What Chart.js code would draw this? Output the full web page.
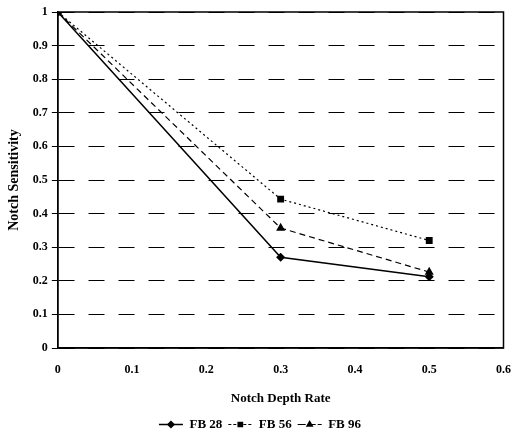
<!DOCTYPE html>
<html>
<head>
<meta charset="utf-8">
<script src="https://cdn.jsdelivr.net/npm/chart.js@4/dist/chart.umd.min.js"></script>
<style>
  html, body { margin: 0; padding: 0; background: #fff; overflow: hidden; }
  #wrap { width: 511px; height: 448px; overflow: hidden; }
</style>
</head>
<body>
<div id="wrap"><canvas id="chart" width="518" height="448"></canvas></div>
<script>
// notch depth rate (x) and notch sensitivity per specimen
const depthRates = [0, 0.3, 0.5];
const fb28 = [1, 0.27, 0.212];
const fb56 = [1, 0.443, 0.32];
const fb96 = [1, 0.357, 0.226];
const seriesNames = ['FB 28', 'FB 56', 'FB 96'];

const serif = '"Liberation Serif", "DejaVu Serif", serif';

function toPoints(ys) {
    return depthRates.map((x, i) => ({ x: x, y: ys[i] }));
}

// frame around plot area + legend markers over the line samples
const framePlugin = {
    id: 'frame',
    afterDraw(chart) {
        const ctx = chart.ctx;
        const a = chart.chartArea;
        ctx.save();
        ctx.strokeStyle = '#000';
        ctx.lineWidth = 1.5;
        ctx.setLineDash([]);
        ctx.strokeRect(a.left, a.top, a.right - a.left, a.bottom - a.top);

        const legend = chart.legend;
        if (legend && legend.legendHitBoxes) {
            legend.legendHitBoxes.forEach((box, i) => {
                const ds = chart.data.datasets[i];
                const cx = box.left + legend.options.labels.boxWidth / 2;
                const cy = box.top + box.height / 2;
                ctx.fillStyle = '#000';
                ctx.strokeStyle = '#000';
                Chart.helpers.drawPoint(ctx, {
                    pointStyle: ds.pointStyle,
                    radius: 3,
                    borderWidth: 1
                }, cx, cy);
            });
        }
        ctx.restore();
    }
};

const ctx = document.getElementById('chart').getContext('2d');
new Chart(ctx, {
    type: 'scatter',
    data: {
        datasets: [
            {
                label: seriesNames[0],
                data: toPoints(fb28),
                showLine: true,
                borderColor: '#000',
                backgroundColor: '#000',
                borderWidth: 1.5,
                pointStyle: 'rectRot',
                pointRadius: 3.5
            },
            {
                label: seriesNames[1],
                data: toPoints(fb56),
                showLine: true,
                borderColor: '#000',
                backgroundColor: '#000',
                borderWidth: 1.2,
                borderDash: [2, 3],
                pointStyle: 'rect',
                pointRadius: 4
            },
            {
                label: seriesNames[2],
                data: toPoints(fb96),
                showLine: true,
                borderColor: '#000',
                backgroundColor: '#000',
                borderWidth: 1.2,
                borderDash: [6, 4],
                pointStyle: 'triangle',
                pointRadius: 4
            }
        ]
    },
    options: {
        responsive: false,
        animation: false,
        layout: { padding: { top: 12, right: 0, left: 2, bottom: 7 } },
        scales: {
            x: {
                type: 'linear',
                min: 0,
                max: 0.6,
                ticks: {
                    stepSize: 0.1,
                    color: '#000',
                    font: { family: serif, weight: 'bold', size: 12 },
                    padding: 7,
                    callback: v => Math.round(v * 10) / 10
                },
                grid: { display: false },
                border: { color: '#000', width: 1.5 },
                title: {
                    display: true,
                    text: 'Notch Depth Rate',
                    color: '#000',
                    font: { family: serif, weight: 'bold', size: 13 },
                    padding: { top: 6, bottom: 6 }
                }
            },
            y: {
                min: 0,
                max: 1,
                ticks: {
                    stepSize: 0.1,
                    color: '#000',
                    font: { family: serif, weight: 'bold', size: 12 },
                    padding: 4,
                    callback: v => Math.round(v * 10) / 10
                },
                grid: {
                    color: '#000',
                    lineWidth: 1,
                    tickLength: 6,
                    tickBorderDash: [],
                    drawTicks: true
                },
                border: { color: '#000', width: 1.5, dash: [16, 14] },
                title: {
                    display: true,
                    text: 'Notch Sensitivity',
                    color: '#000',
                    font: { family: serif, weight: 'bold', size: 14 },
                    padding: { bottom: 6 }
                }
            }
        },
        plugins: {
            legend: {
                position: 'bottom',
                labels: {
                    color: '#000',
                    font: { family: serif, weight: 'bold', size: 13 },
                    boxWidth: 24,
                    boxHeight: 0,
                    padding: 6
                }
            },
            tooltip: { enabled: false }
        }
    },
    plugins: [framePlugin]
});
</script>
</body>
</html>
